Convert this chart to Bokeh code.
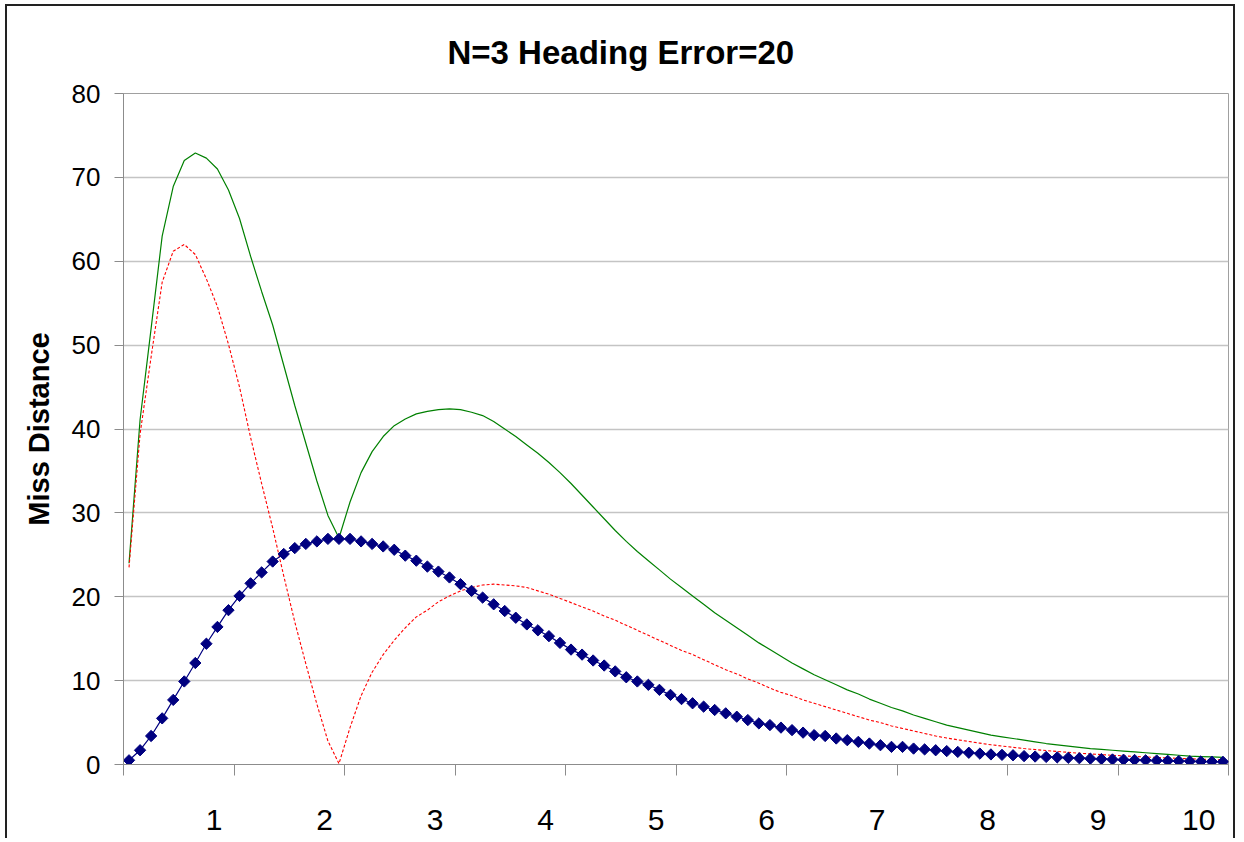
import math
from bokeh.plotting import figure
from bokeh.models import Range1d, FixedTicker, Title, ColumnDataSource
from bokeh.embed import file_html
from bokeh.resources import INLINE

# ---------------- data ----------------
x_values = [round(0.1 * k, 1) for k in range(1, 101)]

blue = [0.5, 1.7, 3.4, 5.5, 7.7, 9.9, 12.1, 14.4, 16.4, 18.4,
        20.1, 21.6, 22.9, 24.2, 25.1, 25.8, 26.3, 26.6, 26.9, 26.9,
        26.9, 26.6, 26.3, 26.0, 25.6, 24.9, 24.3, 23.6, 23.0, 22.3,
        21.5, 20.7, 19.9, 19.1, 18.3, 17.5, 16.7, 16.0, 15.3, 14.5,
        13.7, 13.1, 12.4, 11.8, 11.1, 10.4, 9.9, 9.5, 8.9, 8.3,
        7.8, 7.3, 6.9, 6.5, 6.1, 5.7, 5.3, 4.9, 4.7, 4.4,
        4.1, 3.8, 3.5, 3.4, 3.1, 2.9, 2.7, 2.5, 2.3, 2.1,
        2.1, 1.9, 1.8, 1.7, 1.6, 1.5, 1.4, 1.3, 1.2, 1.15,
        1.1, 1.0, 0.95, 0.9, 0.85, 0.8, 0.75, 0.7, 0.65, 0.6,
        0.57, 0.54, 0.5, 0.47, 0.44, 0.41, 0.39, 0.36, 0.34, 0.32]

red = [23.5, 39.4, 48.6, 57.5, 61.2, 62.0, 60.8, 57.9, 54.6, 50.1,
       45.0, 39.0, 33.5, 28.2, 22.5, 17.0, 12.0, 7.2, 2.8, 0.1,
       4.4, 8.2, 11.0, 13.1, 14.8, 16.3, 17.6, 18.4, 19.4, 20.1,
       20.7, 21.1, 21.4, 21.5, 21.4, 21.3, 21.1, 20.7, 20.3, 19.8,
       19.3, 18.8, 18.3, 17.7, 17.2, 16.6, 16.0, 15.4, 14.8, 14.2,
       13.6, 13.1, 12.5, 11.9, 11.3, 10.8, 10.2, 9.7, 9.1, 8.6,
       8.2, 7.7, 7.3, 6.9, 6.5, 6.1, 5.7, 5.3, 5.0, 4.6,
       4.3, 4.0, 3.7, 3.4, 3.15, 2.95, 2.75, 2.55, 2.35, 2.2,
       2.05, 1.9, 1.78, 1.66, 1.55, 1.45, 1.35, 1.26, 1.18, 1.1,
       1.03, 0.96, 0.9, 0.84, 0.78, 0.73, 0.68, 0.63, 0.59, 0.55]

green = [24.0, 41.1, 52.0, 63.0, 68.9, 72.0, 72.9, 72.3, 71.0, 68.5,
         65.1, 60.6, 56.4, 52.4, 47.6, 42.8, 38.3, 33.8, 29.7, 27.0,
         31.3, 34.8, 37.3, 39.1, 40.4, 41.2, 41.8, 42.1, 42.3, 42.4,
         42.3, 42.0, 41.6, 40.9, 40.0, 39.1, 38.1, 37.1, 36.0, 34.8,
         33.5, 32.1, 30.7, 29.3, 27.9, 26.6, 25.4, 24.3, 23.2, 22.1,
         21.1, 20.1, 19.1, 18.1, 17.2, 16.3, 15.4, 14.5, 13.7, 12.9,
         12.1, 11.4, 10.7, 10.1, 9.5, 8.9, 8.4, 7.8, 7.3, 6.8,
         6.4, 5.9, 5.5, 5.1, 4.7, 4.4, 4.1, 3.8, 3.5, 3.3,
         3.1, 2.9, 2.7, 2.5, 2.35, 2.2, 2.05, 1.9, 1.8, 1.7,
         1.6, 1.5, 1.4, 1.3, 1.2, 1.1, 1.0, 0.95, 0.9, 0.85]

x_tick_labels = ["1", "2", "3", "4", "5", "6", "7", "8", "9", "10"]
y_ticks = [0, 10, 20, 30, 40, 50, 60, 70, 80]

title_text = "N=3 Heading Error=20"
y_title = "Miss Distance"

# ---------------- figure ----------------
FONT = "Liberation Sans"
W, H = 1230, 834
p = figure(width=W, height=H, output_backend="svg", toolbar_location=None,
           x_range=Range1d(0.05, 10.05), y_range=Range1d(0, 80),
           min_border_left=116, min_border_right=9, min_border_top=87,
           min_border_bottom=76, background_fill_color="white",
           border_fill_color="white",
           styles={"margin-left": "5px", "margin-top": "4px",
                   "border-left": "2px solid #222222",
                   "border-top": "2px solid #222222",
                   "border-right": "2px solid #222222"})

t = Title(text=title_text, text_font=FONT, text_font_size="33px",
          text_font_style="bold", align="left", offset=324, standoff=46,
          text_color="black")
p.add_layout(t, "above")

p.outline_line_color = "#a0a0a0"
p.outline_line_width = 1

# grid
p.xgrid.visible = False
p.ygrid.ticker = FixedTicker(ticks=y_ticks)
p.ygrid.grid_line_color = "#c4c4c4"
p.ygrid.grid_line_width = 1.5

# y axis
ya = p.yaxis[0]
ya.ticker = FixedTicker(ticks=y_ticks)
ya.axis_line_color = "#8c8c8c"
ya.major_tick_line_color = "#8c8c8c"
ya.major_tick_out = 9
ya.major_tick_in = 0
ya.minor_tick_line_color = None
ya.major_label_text_font = FONT
ya.major_label_text_font_size = "26px"
ya.major_label_text_color = "black"
ya.major_label_standoff = 14
ya.axis_label = y_title
ya.axis_label_text_font = FONT
ya.axis_label_text_font_size = "29px"
ya.axis_label_text_font_style = "bold"
ya.axis_label_text_color = "black"
ya.axis_label_standoff = 14

# x axis: category-style tick marks between groups, labels offset left
n_groups = len(x_tick_labels)
sep_ticks = [x_values[0] - 0.05 + k for k in range(n_groups + 1)]
label_pos = [x_values[0] - 0.05 + (k + 1) - 0.181 for k in range(n_groups - 1)]
label_pos.append(x_values[-1] + 0.05 - 0.27)
xa = p.xaxis[0]
xa.ticker = FixedTicker(ticks=label_pos, minor_ticks=sep_ticks)
xa.major_label_overrides = {pos: lab for pos, lab in zip(label_pos, x_tick_labels)}
xa.axis_line_color = "#8c8c8c"
xa.major_tick_line_color = None
xa.major_tick_out = 0
xa.major_tick_in = 0
xa.minor_tick_line_color = "#8c8c8c"
xa.minor_tick_out = 11
xa.minor_tick_in = 0
xa.major_label_text_font = FONT
xa.major_label_text_font_size = "30px"
xa.major_label_text_color = "black"
xa.major_label_standoff = 34

src = ColumnDataSource(dict(x=x_values, blue=blue, red=red, green=green))

p.line("x", "green", source=src, line_color="#008000", line_width=1.2)
p.line("x", "red", source=src, line_color="#ff0000", line_width=1.1,
       line_dash="3 2")
p.line("x", "blue", source=src, line_color="#000080", line_width=1.2)
p.scatter("x", "blue", source=src, marker="square", angle=math.pi / 4,
          size=8, fill_color="#000080", line_color="#000080")

open("out.html", "w").write(file_html(p, INLINE))
